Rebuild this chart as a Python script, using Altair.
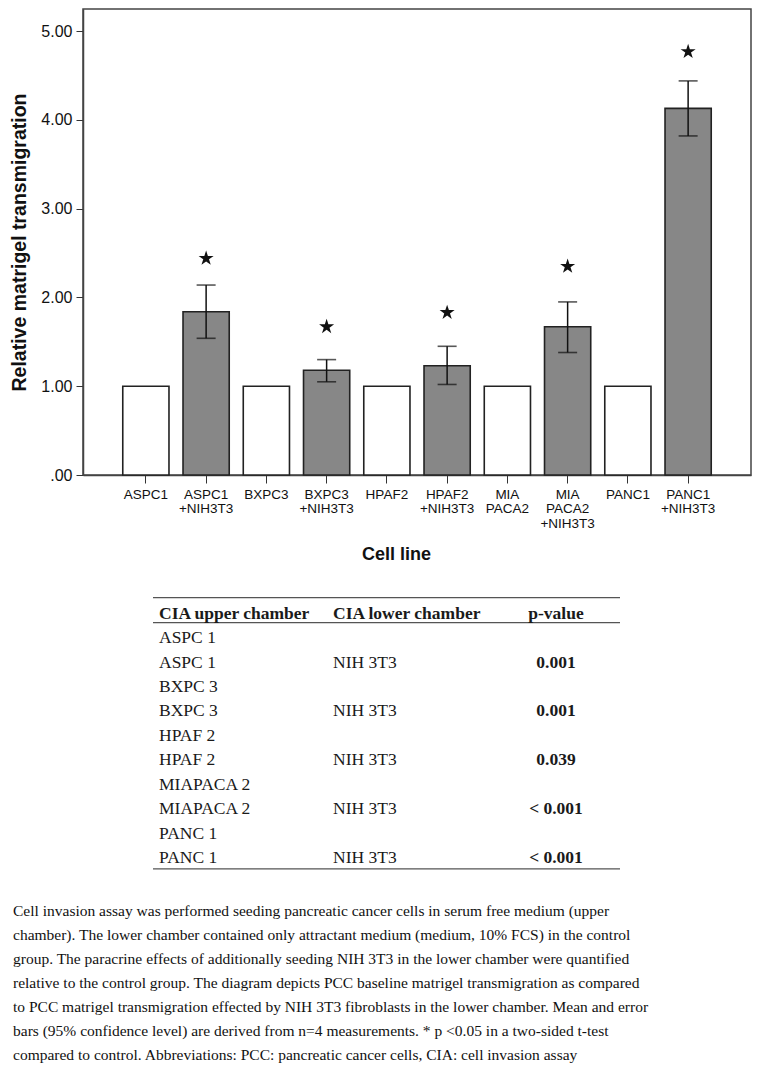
import altair as alt
import pandas as pd

# ---------------- data ----------------
categories = ["ASPC1", "ASPC1\n+NIH3T3", "BXPC3", "BXPC3\n+NIH3T3", "HPAF2",
              "HPAF2\n+NIH3T3", "MIA\nPACA2", "MIA\nPACA2\n+NIH3T3", "PANC1", "PANC1\n+NIH3T3"]
groups = ["control", "NIH3T3"] * 5
means = [1.00, 1.84, 1.00, 1.18, 1.00, 1.23, 1.00, 1.67, 1.00, 4.13]
ci_low = [None, 1.54, None, 1.05, None, 1.02, None, 1.38, None, 3.82]
ci_high = [None, 2.14, None, 1.30, None, 1.45, None, 1.95, None, 4.44]
star_pos = [None, 2.44, None, 1.67, None, 1.83, None, 2.35, None, 4.77]

y_ticks = [0, 1, 2, 3, 4, 5]

table_header = ["CIA upper chamber", "CIA lower chamber", "p-value"]
table_upper = ["ASPC 1", "ASPC 1", "BXPC 3", "BXPC 3", "HPAF 2", "HPAF 2",
               "MIAPACA 2", "MIAPACA 2", "PANC 1", "PANC 1"]
table_lower = ["", "NIH 3T3", "", "NIH 3T3", "", "NIH 3T3", "", "NIH 3T3", "", "NIH 3T3"]
table_p = ["", "0.001", "", "0.001", "", "0.039", "", "< 0.001", "", "< 0.001"]

caption_lines = [
    "Cell invasion assay was performed seeding pancreatic cancer cells in serum free medium (upper",
    "chamber). The lower chamber contained only attractant medium (medium, 10% FCS) in the control",
    "group. The paracrine effects of additionally seeding NIH 3T3 in the lower chamber were quantified",
    "relative to the control group. The diagram depicts PCC baseline matrigel transmigration as compared",
    "to PCC matrigel transmigration effected by NIH 3T3 fibroblasts in the lower chamber. Mean and error",
    "bars (95% confidence level) are derived from n=4 measurements. * p <0.05 in a two-sided t-test",
    "compared to control. Abbreviations: PCC: pancreatic cancer cells, CIA: cell invasion assay",
]

# ---------------- layout / style constants ----------------
PLOT_W, PLOT_H = 668, 466
STAR = ("M0,-1L0.2245,-0.309L0.9511,-0.309L0.3633,0.118L0.5878,0.809L0,0.382"
        "L-0.5878,0.809L-0.3633,0.118L-0.9511,-0.309L-0.2245,-0.309Z")
SANS = "Liberation Sans"
SERIF = "Liberation Serif"

df = pd.DataFrame({"cat": categories, "group": groups, "mean": means,
                   "lo": ci_low, "hi": ci_high, "star": star_pos})

x_enc = alt.X(
    "cat:N", sort=categories,
    scale=alt.Scale(paddingInner=0.233, paddingOuter=0.66),
    axis=alt.Axis(
        title="Cell line", labelAngle=0, labelExpr="split(datum.label, '\\n')",
        labelFontSize=13.5, labelLineHeight=14.5, labelPadding=4, labelColor="#111",
        labelOverlap=False, tickSize=8, tickColor="#333", domainColor="#444",
        domainWidth=1.5, titleFontSize=18, titleFontWeight="bold", titleColor="#111",
        titleX=313, titleY=79, titleBaseline="middle", titleAlign="center",
    ),
)
y_scale = alt.Scale(domain=[0, 5.25], nice=False, zero=True)
y_axis = alt.Axis(
    title="Relative matrigel transmigration", values=y_ticks, grid=False,
    labelExpr="datum.value == 0 ? '.00' : format(datum.value, '.2f')",
    labelFontSize=16, labelPadding=4, labelColor="#111", tickSize=7, tickColor="#333",
    domainColor="#444", domainWidth=1.5, titleFontSize=19.5, titleFontWeight="bold",
    titleColor="#111", titleX=-64, titleY=233, titleAngle=270,
    titleAlign="center", titleBaseline="middle",
)

base = alt.Chart(df)
bars = base.mark_bar(stroke="#222", strokeWidth=1.6).encode(
    x=x_enc,
    y=alt.Y("mean:Q", scale=y_scale, axis=y_axis),
    color=alt.Color("group:N", scale=alt.Scale(domain=["control", "NIH3T3"],
                                               range=["#ffffff", "#878787"]), legend=None),
)
valid = base.transform_filter("isValid(datum.lo)")
err = valid.mark_rule(color="#111", strokeWidth=1.5).encode(
    x=alt.X("cat:N", sort=categories), y=alt.Y("lo:Q", scale=y_scale), y2="hi:Q")
cap_lo = valid.mark_tick(color="#111", size=19, thickness=1.6).encode(
    x=alt.X("cat:N", sort=categories), y=alt.Y("lo:Q", scale=y_scale))
cap_hi = valid.mark_tick(color="#111", size=19, thickness=1.6).encode(
    x=alt.X("cat:N", sort=categories), y=alt.Y("hi:Q", scale=y_scale))
stars = valid.mark_point(shape=STAR, filled=True, size=250, color="#111", opacity=1).encode(
    x=alt.X("cat:N", sort=categories), y=alt.Y("star:Q", scale=y_scale))

main = alt.layer(bars, err, cap_lo, cap_hi, stars).properties(
    width=PLOT_W, height=PLOT_H,
    view=alt.ViewBackground(stroke="#444", strokeWidth=1.5),
)

# ---------------- table ----------------
tdf = pd.DataFrame({"row": list(range(1, len(table_upper) + 1)),
                    "upper": table_upper, "lower": table_lower, "p": table_p})
hdf = pd.DataFrame({"row": [0], "upper": [table_header[0]],
                    "lower": [table_header[1]], "p": [table_header[2]]})
TABLE_RULE_ROWS = [-0.65, 0.37, 10.43]
rdf = pd.DataFrame({"row": TABLE_RULE_ROWS})
t_y = alt.Y("row:Q", scale=alt.Scale(domain=[-0.8, 10.6], reverse=True, nice=False, zero=False),
            axis=None)
COL1_X, COL2_X, COL3_X = 76, 250, 473
RULE_X1, RULE_X2 = 70, 537
TFS = 17.5

t_layers = []
for src, weight in ((tdf, "normal"), (hdf, "bold")):
    c = alt.Chart(src)
    t_layers.append(c.mark_text(font=SERIF, fontSize=TFS, fontWeight=weight, align="left",
                                baseline="middle", color="#1a1a1a")
                    .encode(x=alt.value(COL1_X), y=t_y, text="upper:N"))
    t_layers.append(c.mark_text(font=SERIF, fontSize=TFS, fontWeight=weight, align="left",
                                baseline="middle", color="#1a1a1a")
                    .encode(x=alt.value(COL2_X), y=t_y, text="lower:N"))
    t_layers.append(c.mark_text(font=SERIF, fontSize=TFS, fontWeight="bold", align="center",
                                baseline="middle", color="#1a1a1a")
                    .encode(x=alt.value(COL3_X), y=t_y, text="p:N"))
t_rules = alt.Chart(rdf).mark_rule(color="#555", strokeWidth=1.3).encode(
    x=alt.value(RULE_X1), x2=alt.value(RULE_X2), y=t_y)
table = alt.layer(t_rules, *t_layers).properties(
    width=PLOT_W, height=279, view=alt.ViewBackground(stroke="transparent"))

# ---------------- caption ----------------
cdf = pd.DataFrame({"line": list(range(len(caption_lines))), "text": caption_lines})
caption = alt.Chart(cdf).mark_text(font=SERIF, fontSize=15.5, align="left",
                                   baseline="middle", color="#111").encode(
    x=alt.value(-70),
    y=alt.Y("line:Q", scale=alt.Scale(domain=[-0.2, 6.2], reverse=True, nice=False, zero=False),
            axis=None),
    text="text:N",
).properties(width=PLOT_W, height=154, view=alt.ViewBackground(stroke="transparent"))

chart = alt.vconcat(main, table, caption, spacing=29).properties(
    padding=0, background="white"
).configure(font=SANS)

chart.save("out.html", embed_options={"renderer": "svg", "actions": False})
